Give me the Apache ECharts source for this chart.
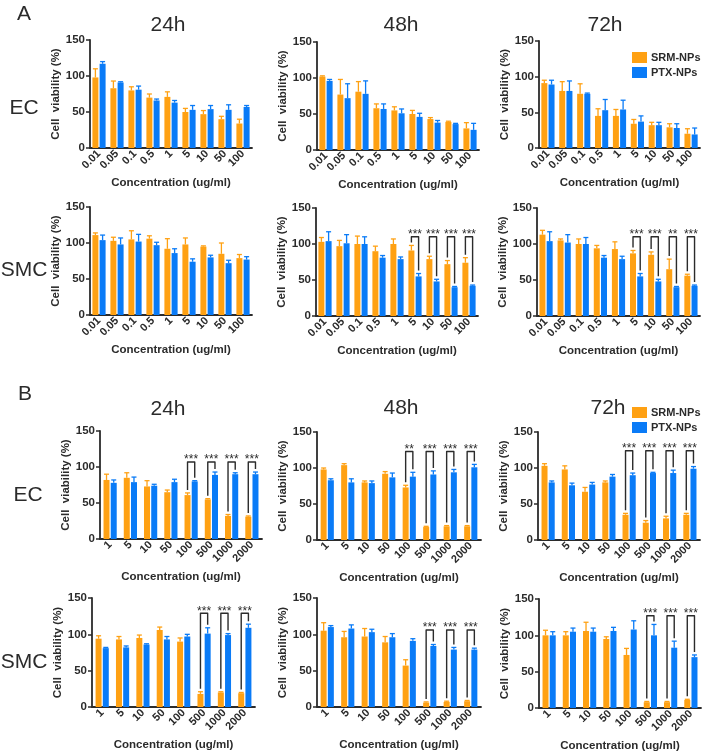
<!DOCTYPE html>
<html>
<head>
<meta charset="utf-8">
<title>Cell viability</title>
<script src="https://cdn.jsdelivr.net/npm/echarts@6/dist/echarts.min.js"></script>
<style>
  html, body { margin: 0; padding: 0; background: #fff; }
  #chart { width: 705px; height: 753px; }
</style>
</head>
<body>
<div id="chart"></div>
<script>
const concA = ['0.01', '0.05', '0.1', '0.5', '1', '5', '10', '50', '100'];
const concB = ['1', '5', '10', '50', '100', '500', '1000', '2000'];
const seriesNames = ['SRM-NPs', 'PTX-NPs'];
const yTicks = [0, 50, 100, 150];

// A - EC
const aEc24Srm = [98, 83, 80, 70, 71, 50, 47, 40, 34];
const aEc24SrmSd = [12, 10, 5, 5, 7, 5, 5, 4, 6];
const aEc24Ptx = [117, 91, 81, 66, 63, 53, 54, 53, 57];
const aEc24PtxSd = [3, 1, 5, 2, 3, 6, 5, 7, 2];

const aEc48Srm = [102, 77, 81, 58, 55, 50, 43, 39, 30];
const aEc48SrmSd = [1, 21, 14, 6, 5, 5, 2, 1, 8];
const aEc48Ptx = [96, 72, 78, 57, 51, 46, 38, 36, 28];
const aEc48PtxSd = [2, 20, 18, 7, 6, 5, 3, 1, 9];

const aEc72Srm = [91, 80, 76, 45, 45, 34, 32, 29, 20];
const aEc72SrmSd = [4, 13, 14, 10, 9, 6, 4, 5, 7];
const aEc72Ptx = [89, 80, 76, 53, 54, 37, 32, 28, 19];
const aEc72PtxSd = [6, 14, 1, 15, 13, 8, 4, 6, 9];

// A - SMC
const aSmc24Srm = [111, 103, 105, 106, 92, 98, 95, 85, 79];
const aSmc24SrmSd = [3, 5, 12, 4, 14, 9, 1, 15, 5];
const aSmc24Ptx = [104, 98, 102, 97, 86, 74, 80, 72, 77];
const aSmc24PtxSd = [7, 9, 10, 4, 6, 4, 3, 4, 4];

const aSmc48Srm = [103, 97, 100, 90, 100, 91, 79, 72, 74];
const aSmc48SrmSd = [6, 8, 11, 7, 7, 7, 4, 5, 7];
const aSmc48Ptx = [104, 101, 100, 81, 79, 55, 48, 40, 42];
const aSmc48PtxSd = [13, 12, 10, 3, 3, 4, 3, 1, 1];
const aSmc48Sig = ['', '', '', '', '', '***', '***', '***', '***'];

const aSmc72Srm = [113, 105, 100, 94, 93, 87, 85, 65, 56];
const aSmc72SrmSd = [6, 2, 7, 4, 10, 4, 4, 14, 2];
const aSmc72Ptx = [104, 102, 100, 81, 79, 55, 48, 40, 42];
const aSmc72PtxSd = [13, 11, 9, 3, 4, 4, 3, 1, 1];
const aSmc72Sig = ['', '', '', '', '', '***', '***', '**', '***'];

// B - EC
const bEc24Srm = [82, 85, 73, 65, 61, 55, 32, 31];
const bEc24SrmSd = [8, 7, 8, 3, 3, 1, 2, 1];
const bEc24Ptx = [78, 79, 74, 79, 80, 89, 90, 90];
const bEc24PtxSd = [4, 7, 2, 4, 1, 4, 2, 3];
const bEc24Sig = ['', '', '', '', '***', '***', '***', '***'];

const bEc48Srm = [98, 104, 80, 92, 73, 18, 19, 19];
const bEc48SrmSd = [2, 2, 2, 3, 3, 1, 1, 1];
const bEc48Ptx = [83, 80, 79, 87, 88, 91, 94, 101];
const bEc48PtxSd = [2, 5, 3, 6, 6, 5, 4, 4];
const bEc48Sig = ['', '', '', '', '**', '***', '***', '***'];

const bEc72Srm = [103, 98, 67, 80, 35, 24, 30, 35];
const bEc72SrmSd = [3, 5, 6, 2, 2, 3, 3, 2];
const bEc72Ptx = [80, 76, 77, 88, 90, 93, 93, 99];
const bEc72PtxSd = [2, 3, 3, 3, 3, 1, 4, 3];
const bEc72Sig = ['', '', '', '', '***', '***', '***', '***'];

// B - SMC
const bSmc24Srm = [94, 93, 95, 106, 90, 18, 20, 19];
const bSmc24SrmSd = [4, 4, 4, 4, 5, 3, 1, 1];
const bSmc24Ptx = [81, 82, 86, 93, 97, 101, 99, 109];
const bSmc24PtxSd = [1, 2, 1, 4, 3, 8, 2, 5];
const bSmc24Sig = ['', '', '', '', '', '***', '***', '***'];

const bSmc48Srm = [105, 96, 97, 89, 57, 6, 7, 8];
const bSmc48SrmSd = [11, 8, 11, 8, 8, 1, 1, 1];
const bSmc48Ptx = [110, 108, 103, 96, 91, 84, 79, 79];
const bSmc48PtxSd = [2, 5, 4, 5, 3, 2, 3, 2];
const bSmc48Sig = ['', '', '', '', '', '***', '***', '***'];

const bSmc72Srm = [100, 100, 106, 95, 73, 8, 8, 11];
const bSmc72SrmSd = [7, 5, 12, 3, 9, 1, 1, 1];
const bSmc72Ptx = [100, 105, 105, 106, 108, 100, 83, 70];
const bSmc72PtxSd = [5, 5, 5, 5, 12, 15, 9, 3];
const bSmc72Sig = ['', '', '', '', '', '***', '***', '***'];

// height (in % units) of the significance brackets per panel
const bracketLevels = [0, 0, 0, 0, 110, 110, 107, 123, 124, 129, 106, 127];

const panels = [
  { cat: concA, srm: aEc24Srm, srmSd: aEc24SrmSd, ptx: aEc24Ptx, ptxSd: aEc24PtxSd, sig: null },
  { cat: concA, srm: aEc48Srm, srmSd: aEc48SrmSd, ptx: aEc48Ptx, ptxSd: aEc48PtxSd, sig: null },
  { cat: concA, srm: aEc72Srm, srmSd: aEc72SrmSd, ptx: aEc72Ptx, ptxSd: aEc72PtxSd, sig: null },
  { cat: concA, srm: aSmc24Srm, srmSd: aSmc24SrmSd, ptx: aSmc24Ptx, ptxSd: aSmc24PtxSd, sig: null },
  { cat: concA, srm: aSmc48Srm, srmSd: aSmc48SrmSd, ptx: aSmc48Ptx, ptxSd: aSmc48PtxSd, sig: aSmc48Sig },
  { cat: concA, srm: aSmc72Srm, srmSd: aSmc72SrmSd, ptx: aSmc72Ptx, ptxSd: aSmc72PtxSd, sig: aSmc72Sig },
  { cat: concB, srm: bEc24Srm, srmSd: bEc24SrmSd, ptx: bEc24Ptx, ptxSd: bEc24PtxSd, sig: bEc24Sig },
  { cat: concB, srm: bEc48Srm, srmSd: bEc48SrmSd, ptx: bEc48Ptx, ptxSd: bEc48PtxSd, sig: bEc48Sig },
  { cat: concB, srm: bEc72Srm, srmSd: bEc72SrmSd, ptx: bEc72Ptx, ptxSd: bEc72PtxSd, sig: bEc72Sig },
  { cat: concB, srm: bSmc24Srm, srmSd: bSmc24SrmSd, ptx: bSmc24Ptx, ptxSd: bSmc24PtxSd, sig: bSmc24Sig },
  { cat: concB, srm: bSmc48Srm, srmSd: bSmc48SrmSd, ptx: bSmc48Ptx, ptxSd: bSmc48PtxSd, sig: bSmc48Sig },
  { cat: concB, srm: bSmc72Srm, srmSd: bSmc72SrmSd, ptx: bSmc72Ptx, ptxSd: bSmc72PtxSd, sig: bSmc72Sig },
];

// [left, top, width, height, xNameGap]
const boxes = [
  [90, 40, 162, 108, 29], [317, 42, 162, 108, 29], [539, 41, 161, 107, 29],
  [90, 207, 162, 108, 29], [316, 208, 162, 108, 29], [537, 208, 163, 108, 29],
  [100, 431, 162, 108, 32], [317, 432, 164, 108, 32], [538, 432, 162, 108, 32],
  [92, 598, 163, 109, 32], [317, 598, 164, 109, 32], [539, 599, 162, 109, 32],
];

const FONT = '"Liberation Sans", Arial, sans-serif';
const ORANGE = '#FFA113';
const BLUE = '#0A7BF7';
const INK = '#2b2b2b';
const BAR_W = 6;
const BAR_OFF = 3.6;

function errorBars(offset, color) {
  return function (params, api) {
    const idx = api.value(0);
    const base = api.coord([idx, api.value(1)]);
    const top = api.coord([idx, api.value(1) + api.value(2)]);
    const x = base[0] + offset;
    const style = { stroke: color, lineWidth: 1.3 };
    return {
      type: 'group',
      children: [
        { type: 'line', shape: { x1: x, y1: base[1], x2: x, y2: top[1] }, style },
        { type: 'line', shape: { x1: x - 2.5, y1: top[1], x2: x + 2.5, y2: top[1] }, style },
      ],
    };
  };
}

function brackets(labels) {
  return function (params, api) {
    const idx = api.value(0);
    const left = api.coord([idx, api.value(1)]);
    const right = api.coord([idx, api.value(2)]);
    const top = api.coord([idx, api.value(3)]);
    const xl = left[0] - BAR_OFF;
    const xr = left[0] + BAR_OFF;
    return {
      type: 'group',
      children: [
        {
          type: 'polyline',
          shape: { points: [[xl, left[1] - 3], [xl, top[1]], [xr, top[1]], [xr, right[1] - 3]] },
          style: { stroke: INK, lineWidth: 1.4, fill: null, lineJoin: 'round' },
        },
        {
          type: 'text',
          x: (xl + xr) / 2,
          y: top[1] - 2,
          style: {
            text: labels[params.dataIndex], fill: INK, font: '12px ' + FONT,
            align: 'center', verticalAlign: 'middle',
            textAlign: 'center', textVerticalAlign: 'middle',
          },
        },
      ],
    };
  };
}

const grid = [];
const xAxis = [];
const yAxis = [];
const series = [];

panels.forEach((p, i) => {
  const box = boxes[i];
  grid.push({ left: box[0], top: box[1], width: box[2], height: box[3] });
  xAxis.push({
    gridIndex: i,
    type: 'category',
    data: p.cat,
    name: 'Concentration (ug/ml)',
    nameLocation: 'middle',
    nameGap: box[4],
    nameTextStyle: { fontFamily: FONT, fontSize: 11.5, fontWeight: 'bold', color: INK },
    axisLine: { lineStyle: { color: INK, width: 1.8 } },
    axisTick: { alignWithLabel: true, length: 4, lineStyle: { color: INK, width: 1.5 } },
    axisLabel: { interval: 0, rotate: 45, margin: 4, fontFamily: FONT, fontSize: 11, fontWeight: 'bold', color: INK },
  });
  yAxis.push({
    gridIndex: i,
    type: 'value',
    min: yTicks[0],
    max: yTicks[yTicks.length - 1],
    interval: yTicks[1] - yTicks[0],
    name: 'Cell  viability (%)',
    nameLocation: 'middle',
    nameGap: 25,
    nameTextStyle: { fontFamily: FONT, fontSize: 11.5, fontWeight: 'bold', color: INK },
    splitLine: { show: false },
    axisLine: { show: true, lineStyle: { color: INK, width: 1.8 } },
    axisTick: { show: true, length: 4, lineStyle: { color: INK, width: 1.5 } },
    axisLabel: { margin: 5, fontFamily: FONT, fontSize: 11.5, fontWeight: 'bold', color: INK },
  });

  const common = { type: 'bar', xAxisIndex: i, yAxisIndex: i, barWidth: BAR_W, barGap: '20%', silent: true };
  series.push({ ...common, name: seriesNames[0], itemStyle: { color: ORANGE }, data: p.srm });
  series.push({ ...common, name: seriesNames[1], itemStyle: { color: BLUE }, data: p.ptx });

  series.push({
    type: 'custom', xAxisIndex: i, yAxisIndex: i, silent: true, z: 3,
    renderItem: errorBars(-BAR_OFF, ORANGE),
    data: p.srm.map((v, k) => [k, v, p.srmSd[k]]),
  });
  series.push({
    type: 'custom', xAxisIndex: i, yAxisIndex: i, silent: true, z: 3,
    renderItem: errorBars(BAR_OFF, BLUE),
    data: p.ptx.map((v, k) => [k, v, p.ptxSd[k]]),
  });

  if (p.sig) {
    const items = [];
    const labels = [];
    p.sig.forEach((s, k) => {
      if (!s) return;
      items.push([k, p.srm[k] + p.srmSd[k], p.ptx[k] + p.ptxSd[k], bracketLevels[i]]);
      labels.push(s);
    });
    series.push({
      type: 'custom', xAxisIndex: i, yAxisIndex: i, silent: true, z: 4,
      renderItem: brackets(labels),
      data: items,
    });
  }
});

function label(text, x, y, size, weight) {
  return {
    type: 'text', x, y,
    style: {
      text, fill: INK, font: (weight || 'normal') + ' ' + size + 'px ' + FONT,
      align: 'center', verticalAlign: 'middle', textAlign: 'center', textVerticalAlign: 'middle',
    },
  };
}

const legendBase = {
  orient: 'vertical',
  data: seriesNames,
  icon: 'rect',
  itemWidth: 15,
  itemHeight: 11,
  itemGap: 4,
  padding: 0,
  selectedMode: false,
  textStyle: { fontFamily: FONT, fontSize: 11, fontWeight: 'bold', color: INK, padding: [0, 0, 0, -1] },
};

const chart = echarts.init(document.getElementById('chart'), null, { renderer: 'canvas' });
chart.setOption({
  animation: false,
  backgroundColor: '#ffffff',
  grid,
  xAxis,
  yAxis,
  series,
  legend: [
    { ...legendBase, left: 632, top: 52 },
    { ...legendBase, left: 632, top: 407 },
  ],
  graphic: [
    label('A', 24, 14, 21),
    label('24h', 168, 25, 21),
    label('48h', 401, 25, 21),
    label('72h', 605, 25, 21),
    label('EC', 24, 108, 21),
    label('SMC', 24, 270, 21),
    label('B', 25, 394, 21),
    label('24h', 168, 409, 21),
    label('48h', 401, 408, 21),
    label('72h', 608, 408, 21),
    label('EC', 28, 495, 21),
    label('SMC', 24, 662, 21),
  ],
});
</script>
</body>
</html>
